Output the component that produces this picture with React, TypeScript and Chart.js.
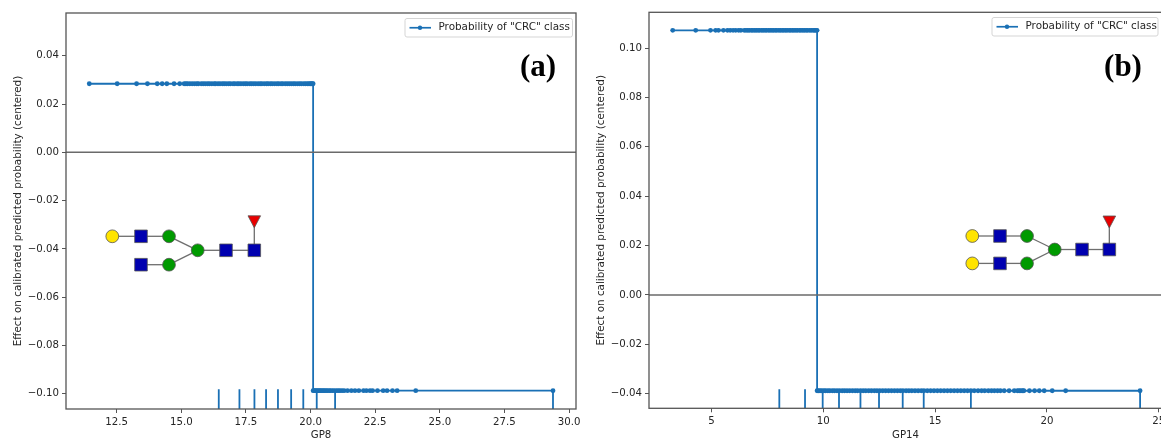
import React, { useEffect, useRef } from "react";
import { Chart, registerables } from "chart.js";

Chart.register(...registerables);

const LEGEND_LABEL = 'Probability of "CRC" class';
const Y_TITLE = "Effect on calibrated predicted probability (centered)";

// Panel (a)
const gp8Name = "GP8";
const gp8Tag = "(a)";
const gp8XTicks = [12.5, 15.0, 17.5, 20.0, 22.5, 25.0, 27.5, 30.0];
const gp8YTicks = [0.04, 0.02, 0.0, -0.02, -0.04, -0.06, -0.08, -0.1];
const gp8High = 0.0284;
const gp8Low = -0.0987;
const gp8HighX = [11.44, 12.52, 13.27, 13.69, 14.07, 14.26, 14.44, 14.72, 14.94, 15.11, 15.18, 15.24, 15.33, 15.42, 15.51, 15.6, 15.66, 15.77, 15.85, 15.93, 16.02, 16.09, 16.18, 16.27, 16.33, 16.42, 16.5, 16.59, 16.66, 16.74, 16.83, 16.9, 17.0, 17.07, 17.16, 17.23, 17.31, 17.4, 17.48, 17.55, 17.65, 17.72, 17.8, 17.88, 17.97, 18.05, 18.12, 18.21, 18.3, 18.36, 18.45, 18.52, 18.61, 18.7, 18.77, 18.86, 18.93, 19.02, 19.1, 19.18, 19.26, 19.34, 19.41, 19.5, 19.58, 19.65, 19.74, 19.81, 19.88, 19.94, 19.99, 20.03, 20.07, 20.1];
const gp8LowX = [20.1, 20.14, 20.18, 20.22, 20.27, 20.31, 20.36, 20.4, 20.45, 20.5, 20.55, 20.6, 20.66, 20.72, 20.78, 20.85, 20.92, 21.0, 21.07, 21.14, 21.22, 21.3, 21.43, 21.58, 21.72, 21.87, 22.05, 22.16, 22.3, 22.4, 22.59, 22.81, 22.96, 23.17, 23.35, 24.07, 29.38];
const gp8Rug = [16.45, 17.25, 17.83, 18.28, 18.74, 19.25, 19.72, 20.24, 20.95, 29.38];

// Panel (b)
const gp14Name = "GP14";
const gp14Tag = "(b)";
const gp14XTicks = [5, 10, 15, 20, 25];
const gp14YTicks = [0.1, 0.08, 0.06, 0.04, 0.02, 0.0, -0.02, -0.04];
const gp14High = 0.1072;
const gp14Low = -0.0388;
const gp14HighX = [3.26, 4.29, 4.95, 5.18, 5.31, 5.53, 5.71, 5.83, 5.96, 6.08, 6.21, 6.31, 6.46, 6.54, 6.62, 6.69, 6.78, 6.85, 6.93, 7.0, 7.08, 7.15, 7.24, 7.31, 7.39, 7.46, 7.55, 7.62, 7.7, 7.77, 7.85, 7.92, 8.01, 8.08, 8.16, 8.23, 8.31, 8.38, 8.47, 8.54, 8.62, 8.69, 8.77, 8.84, 8.93, 9.0, 9.08, 9.15, 9.23, 9.3, 9.39, 9.46, 9.54, 9.6, 9.66, 9.72];
const gp14LowX = [9.72, 9.78, 9.85, 9.93, 10.02, 10.1, 10.2, 10.29, 10.4, 10.5, 10.61, 10.72, 10.84, 10.95, 11.06, 11.18, 11.3, 11.42, 11.53, 11.66, 11.78, 11.9, 12.03, 12.15, 12.28, 12.4, 12.53, 12.66, 12.79, 12.92, 13.05, 13.18, 13.31, 13.44, 13.56, 13.7, 13.83, 13.96, 14.1, 14.24, 14.38, 14.5, 14.65, 14.8, 14.95, 15.1, 15.25, 15.4, 15.55, 15.7, 15.85, 16.0, 16.15, 16.3, 16.45, 16.6, 16.75, 16.92, 17.08, 17.22, 17.38, 17.52, 17.65, 17.79, 17.92, 18.09, 18.31, 18.54, 18.68, 18.76, 18.84, 18.92, 18.97, 19.22, 19.45, 19.66, 19.88, 20.24, 20.84, 24.17];
const gp14Rug = [8.03, 9.18, 9.97, 10.7, 11.66, 12.49, 13.55, 14.49, 16.6, 24.17];

const BLUE = "#1a70b5";
const SPINE = "#555555";
const TEXT = "#262626";
const YELLOW = "#ffe400";
const GLY_BLUE = "#0000b0";
const GREEN = "#009a00";
const RED = "#e80000";

type Mono = { kind: string; x: number; y: number };

// Glycan sketch, offsets in pixels from the anchor of the drawing.
function glycan(bothArms: boolean): { monos: Mono[]; links: number[][] } {
  const monos: Mono[] = [
    { kind: "gal", x: 0, y: 0 },
    { kind: "glc", x: 28.7, y: 0 },
    { kind: "man", x: 56.7, y: 0 },
    { kind: "man", x: 85.4, y: 14 },
    { kind: "glc", x: 113.7, y: 14 },
    { kind: "glc", x: 142, y: 14 },
    { kind: "glc", x: 28.7, y: 28.4 },
    { kind: "man", x: 56.7, y: 28.4 },
    { kind: "fuc", x: 142, y: -14.5 },
  ];
  if (bothArms) monos.push({ kind: "gal", x: 0, y: 28.4 });
  const links = [[0, 1], [1, 2], [2, 3], [3, 4], [4, 5], [6, 7], [7, 3], [5, 8]];
  if (bothArms) links.push([9, 6]);
  return { monos, links };
}

type PanelProps = {
  left: number;
  width: number;
  plotLeft: number;
  plotRight: number;
  plotTop: number;
  plotBottom: number;
  name: string;
  tag: string;
  tagX: number;
  xMin: number;
  xMax: number;
  yMin: number;
  yMax: number;
  xTicks: number[];
  yTicks: number[];
  xDigits: number;
  highX: number[];
  lowX: number[];
  high: number;
  low: number;
  rug: number[];
  rugTop: number;
  glycanX: number;
  glycanY: number;
  glycanScale: number;
  bothArms: boolean;
  legendLeft: number;
  legendRight: number;
  legendTop: number;
  titlePad: number;
};

function Panel(p: PanelProps) {
  const ref = useRef<HTMLCanvasElement | null>(null);
  useEffect(() => {
    const decor = {
      id: "decor",
      afterDraw(chart: any) {
        const { ctx, chartArea: a } = chart;
        ctx.save();
        // frame
        ctx.strokeStyle = SPINE;
        ctx.lineWidth = 1.3;
        ctx.strokeRect(a.left, a.top, a.right - a.left, a.bottom - a.top);

        // legend
        ctx.font = "10.4px 'DejaVu Sans'";
        const bx = p.legendLeft;
        const bw = p.legendRight - p.legendLeft;
        const by = p.legendTop;
        const bh = 18.5;
        ctx.fillStyle = "rgba(255,255,255,0.85)";
        ctx.strokeStyle = "#d5d5d5";
        ctx.lineWidth = 1;
        ctx.beginPath();
        ctx.roundRect(bx, by, bw, bh, 2);
        ctx.fill();
        ctx.stroke();
        ctx.strokeStyle = BLUE;
        ctx.lineWidth = 1.7;
        ctx.beginPath();
        ctx.moveTo(bx + 4.5, by + bh / 2);
        ctx.lineTo(bx + 26, by + bh / 2);
        ctx.stroke();
        ctx.fillStyle = BLUE;
        ctx.beginPath();
        ctx.arc(bx + 15, by + bh / 2, 2.2, 0, Math.PI * 2);
        ctx.fill();
        ctx.fillStyle = TEXT;
        ctx.textAlign = "left";
        ctx.textBaseline = "middle";
        ctx.fillText(LEGEND_LABEL, bx + 33.5, by + bh / 2);

        // panel tag
        ctx.font = "bold 31px 'Liberation Serif'";
        ctx.fillStyle = "#000000";
        ctx.textAlign = "center";
        ctx.fillText(p.tag, p.tagX, 68);

        // glycan
        const g = glycan(p.bothArms);
        const s = p.glycanScale;
        ctx.strokeStyle = "#6e6e6e";
        ctx.lineWidth = 1.3;
        g.links.forEach(([i, j]) => {
          ctx.beginPath();
          ctx.moveTo(p.glycanX + g.monos[i].x * s, p.glycanY + g.monos[i].y * s);
          ctx.lineTo(p.glycanX + g.monos[j].x * s, p.glycanY + g.monos[j].y * s);
          ctx.stroke();
        });
        ctx.strokeStyle = "#555555";
        ctx.lineWidth = 0.8;
        g.monos.forEach((m) => {
          const x = p.glycanX + m.x * s;
          const y = p.glycanY + m.y * s;
          ctx.beginPath();
          if (m.kind === "glc") {
            ctx.rect(x - 6.3, y - 6.3, 12.6, 12.6);
            ctx.fillStyle = GLY_BLUE;
          } else if (m.kind === "fuc") {
            ctx.moveTo(x - 6.3, y - 6);
            ctx.lineTo(x + 6.3, y - 6);
            ctx.lineTo(x, y + 6);
            ctx.closePath();
            ctx.fillStyle = RED;
          } else {
            ctx.arc(x, y, 6.4, 0, Math.PI * 2);
            ctx.fillStyle = m.kind === "gal" ? YELLOW : GREEN;
          }
          ctx.fill();
          ctx.stroke();
        });
        ctx.restore();
      },
    };

    const mainData = [
      ...p.highX.map((x) => ({ x, y: p.high })),
      ...p.lowX.map((x) => ({ x, y: p.low })),
    ];
    const rugData: { x: number; y: number }[] = [];
    p.rug.forEach((x) => {
      rugData.push({ x, y: p.yMin }, { x, y: p.rugTop }, { x, y: NaN });
    });

    const chart = new Chart(ref.current as HTMLCanvasElement, {
      type: "line",
      data: {
        datasets: [
          {
            label: "zero",
            data: [
              { x: p.xMin, y: 0 },
              { x: p.xMax, y: 0 },
            ],
            borderColor: "#6a6a6a",
            borderWidth: 1.5,
            pointRadius: 0,
            order: 0,
          },
          {
            label: LEGEND_LABEL,
            data: mainData,
            borderColor: BLUE,
            backgroundColor: BLUE,
            borderWidth: 1.8,
            pointRadius: 2.4,
            pointBorderWidth: 0,
            tension: 0,
            order: 1,
          },
          {
            label: "deciles",
            data: rugData,
            borderColor: BLUE,
            borderWidth: 1.8,
            pointRadius: 0,
            spanGaps: false,
            order: 2,
          },
        ],
      },
      options: {
        animation: false,
        responsive: false,
        layout: { padding: { left: 0, right: p.width - p.plotRight, top: p.plotTop, bottom: 0 } },
        plugins: { legend: { display: false }, tooltip: { enabled: false } },
        scales: {
          x: {
            type: "linear",
            min: p.xMin,
            max: p.xMax,
            afterBuildTicks: (s: any) => {
              s.ticks = p.xTicks.map((value) => ({ value }));
            },
            afterFit: (s: any) => {
              s.height = 439 - p.plotBottom;
              s.paddingLeft = 0;
              s.paddingRight = 0;
            },
            ticks: {
              autoSkip: false,
              maxRotation: 0,
              padding: 3,
              color: TEXT,
              font: { family: "'DejaVu Sans'", size: 10.2 },
              callback: (v: any) => Number(v).toFixed(p.xDigits),
            },
            grid: { display: true, drawOnChartArea: false, drawTicks: true, tickLength: 4, tickColor: SPINE, tickWidth: 1 },
            border: { display: false },
            title: {
              display: true,
              text: p.name,
              color: TEXT,
              font: { family: "'DejaVu Sans'", size: 10.2 },
              padding: { top: 0, bottom: -2 },
            },
          },
          y: {
            type: "linear",
            min: p.yMin,
            max: p.yMax,
            afterBuildTicks: (s: any) => {
              s.ticks = p.yTicks.map((value) => ({ value }));
            },
            afterFit: (s: any) => {
              s.width = p.plotLeft;
              s.paddingTop = 0;
              s.paddingBottom = 0;
            },
            ticks: {
              autoSkip: false,
              padding: 3,
              color: TEXT,
              font: { family: "'DejaVu Sans'", size: 10.2 },
              callback: (v: any) => {
                const t = Math.abs(Number(v)).toFixed(2);
                return Number(v) < -1e-9 ? "\u2212" + t : t;
              },
            },
            grid: { display: true, drawOnChartArea: false, drawTicks: true, tickLength: 4, tickColor: SPINE, tickWidth: 1 },
            border: { display: false },
            title: {
              display: true,
              text: Y_TITLE,
              color: TEXT,
              font: { family: "'DejaVu Sans'", size: 10.4 },
              padding: { top: p.titlePad, bottom: 0 },
            },
          },
        },
      } as any,
      plugins: [decor],
    } as any);
    return () => chart.destroy();
  }, []);
  return (
    <canvas
      ref={ref}
      width={p.width}
      height={439}
      style={{
        position: "absolute",
        left: p.left,
        top: 0,
        width: p.width,
        height: 439,
        filter: "blur(0.35px)",
      }}
    />
  );
}

export default function App() {
  return (
    <div style={{ position: "fixed", left: 0, top: 0, width: 1161, height: 439, overflow: "hidden", background: "#fff" }}>
      <Panel
        left={0}
        width={580}
        plotLeft={66}
        plotRight={577}
        plotTop={13}
        plotBottom={409}
        name={gp8Name}
        tag={gp8Tag}
        tagX={538}
        xMin={10.54}
        xMax={30.27}
        yMin={-0.1063}
        yMax={0.0577}
        xTicks={gp8XTicks}
        yTicks={gp8YTicks}
        xDigits={1}
        highX={gp8HighX}
        lowX={gp8LowX}
        high={gp8High}
        low={gp8Low}
        rug={gp8Rug}
        rugTop={-0.0981}
        glycanX={112.3}
        glycanY={236.3}
        glycanScale={1}
        bothArms={false}
        legendLeft={405}
        legendRight={572.5}
        legendTop={18.5}
        titlePad={12}
      />
      <Panel
        left={580}
        width={590}
        plotLeft={69}
        plotRight={582}
        plotTop={12.3}
        plotBottom={408.3}
        name={gp14Name}
        tag={gp14Tag}
        tagX={543}
        xMin={2.2}
        xMax={25.15}
        yMin={-0.0459}
        yMax={0.1145}
        xTicks={gp14XTicks}
        yTicks={gp14YTicks}
        xDigits={0}
        highX={gp14HighX}
        lowX={gp14LowX}
        high={gp14High}
        low={gp14Low}
        rug={gp14Rug}
        rugTop={-0.0382}
        glycanX={972.3 - 580}
        glycanY={236}
        glycanScale={0.965}
        bothArms={true}
        legendLeft={412}
        legendRight={578}
        legendTop={17.5}
        titlePad={15}
      />
    </div>
  );
}
